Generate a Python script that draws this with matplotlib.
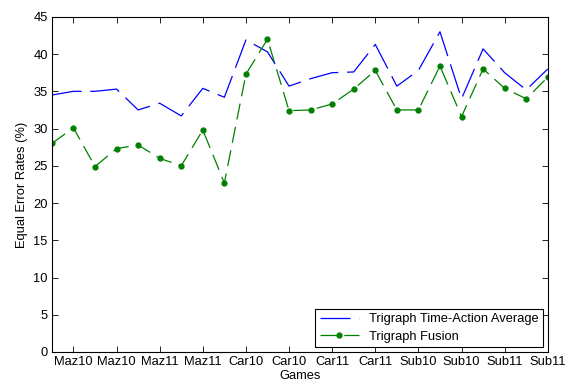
import matplotlib
matplotlib.use('Agg')
from matplotlib import pyplot as plt

plt.rcParams['font.family'] = ['Liberation Sans', 'DejaVu Sans']

games = ['Maz10', 'Maz10', 'Maz11', 'Maz11', 'Car10', 'Car10',
         'Car11', 'Car11', 'Sub10', 'Sub10', 'Sub11', 'Sub11']
time_action_avg = [34.5, 35.0, 35.0, 35.3, 32.5, 33.4, 31.7, 35.4, 34.2, 41.9, 40.3, 35.7,
                   36.7, 37.5, 37.6, 41.3, 35.7, 37.8, 43.0, 34.0, 40.7, 37.5, 35.2, 38.0]
fusion = [28.0, 30.1, 24.9, 27.3, 27.8, 26.0, 25.0, 29.8, 22.7, 37.3, 42.0, 32.4,
          32.5, 33.3, 35.3, 37.8, 32.5, 32.5, 38.4, 31.6, 38.0, 35.4, 34.0, 36.9]

x = list(range(1, len(fusion) + 1))
fs = 9.3

fig = plt.figure(figsize=(5.7, 3.83), dpi=100)
ax = fig.add_axes([0.091, 0.081, 0.870, 0.875])

ax.plot(x, time_action_avg, color='#0000ff', lw=0.9, linestyle=(0, (24, 7)),
        label='Trigraph Time-Action Average')
ax.plot(x, fusion, color='#008000', lw=0.9, linestyle=(0, (13, 6)),
        marker='o', markersize=3.5, label='Trigraph Fusion')

ax.set_xlim(1, 24)
ax.set_ylim(0, 45)
ax.set_xticks(x[1::2])
ax.set_xticklabels(games)
ax.set_yticks(range(0, 46, 5))
ax.tick_params(direction='in', top=True, right=True, labelsize=fs, length=4, width=0.6, pad=3)
for s in ax.spines.values():
    s.set_linewidth(0.8)
ax.set_xlabel('Games', fontsize=fs, labelpad=1)
ax.set_ylabel('Equal Error Rates (%)', fontsize=fs, labelpad=4)

leg = ax.legend(loc='lower right', fontsize=fs, fancybox=False, edgecolor='black',
                framealpha=1, numpoints=1, borderaxespad=0.35, handlelength=3.0,
                labelspacing=0.45, borderpad=0.35)
leg.get_frame().set_linewidth(0.8)

plt.savefig('out.png', dpi=100)
